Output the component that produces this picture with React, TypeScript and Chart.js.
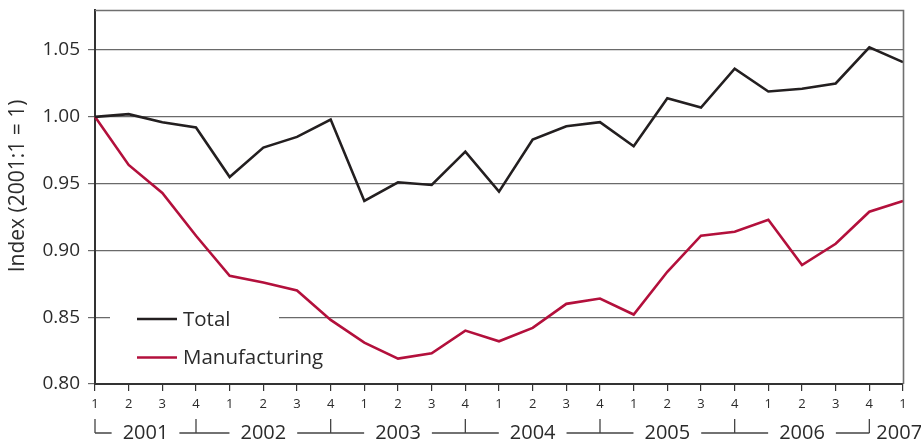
import React, { useEffect, useRef } from "react";
import { Chart, registerables } from "chart.js";

Chart.register(...registerables);

const quarterLabels = ["1", "2", "3", "4", "1", "2", "3", "4", "1", "2", "3", "4", "1", "2", "3", "4", "1", "2", "3", "4", "1", "2", "3", "4", "1"];
const yearLabels = ["2001", "2002", "2003", "2004", "2005", "2006", "2007"];
const totalValues = [1.0, 1.002, 0.996, 0.992, 0.955, 0.977, 0.985, 0.998, 0.937, 0.951, 0.949, 0.974, 0.944, 0.983, 0.993, 0.996, 0.978, 1.014, 1.007, 1.036, 1.019, 1.021, 1.025, 1.052, 1.041];
const manufacturingValues = [1.0, 0.964, 0.943, 0.911, 0.881, 0.876, 0.87, 0.848, 0.831, 0.819, 0.823, 0.84, 0.832, 0.842, 0.86, 0.864, 0.852, 0.884, 0.911, 0.914, 0.923, 0.889, 0.905, 0.929, 0.937];
const yTickValues = [0.8, 0.85, 0.9, 0.95, 1.0, 1.05];
const yMin = 0.8;
const yMax = 1.08;
const yTitle = "Index (2001:1 = 1)";
const seriesNames = ["Total", "Manufacturing"];
const seriesColors = ["#231f20", "#b3103c"];

const FONT = '"Open Sans", "Liberation Sans", Arial, sans-serif';
const TEXT = "#2b2b2b";

const framePlugin = {
  id: "frame",
  beforeDatasetsDraw(chart: any) {
    const { ctx, chartArea } = chart;
    ctx.save();
    // legend box
    const lx = chartArea.left + 15;
    const ly = chartArea.top + 294;
    ctx.fillStyle = "#ffffff";
    ctx.fillRect(lx, ly, 169, 70);
    ctx.font = `20.5px ${FONT}`;
    ctx.textBaseline = "middle";
    ctx.textAlign = "left";
    chart.data.datasets.forEach((ds: any, i: number) => {
      const y = chartArea.top + 309 + i * 38.5;
      ctx.strokeStyle = ds.borderColor;
      ctx.lineWidth = 2.6;
      ctx.beginPath();
      ctx.moveTo(chartArea.left + 42, y);
      ctx.lineTo(chartArea.left + 82, y);
      ctx.stroke();
      ctx.fillStyle = TEXT;
      ctx.fillText(ds.label, chartArea.left + 88, y + 1);
    });
    ctx.restore();
  },
  afterDraw(chart: any) {
    const { ctx, chartArea } = chart;
    const xs = chart.scales.x;
    const ys = chart.scales.y;

    // top and right frame
    const fTop = Math.round(ys.getPixelForValue(yMax)) + 0.5;
    const fRight = Math.round(xs.getPixelForValue(quarterLabels.length - 1)) + 0.5;
    const fLeft = xs.getPixelForValue(0);
    const fBottom = ys.getPixelForValue(yMin);
    ctx.save();
    ctx.strokeStyle = "#6f6f6f";
    ctx.lineWidth = 1.6;
    ctx.beginPath();
    ctx.moveTo(fLeft, fTop);
    ctx.lineTo(fRight, fTop);
    ctx.lineTo(fRight, fBottom);
    ctx.stroke();
    ctx.restore();

    ctx.save();
    // y title
    ctx.font = `21px ${FONT}`;
    ctx.fillStyle = TEXT;
    ctx.translate(18, 186);
    ctx.rotate(-Math.PI / 2);
    ctx.textAlign = "center";
    ctx.textBaseline = "middle";
    ctx.fillText(yTitle, 0, 0);
    ctx.restore();

    // year brackets
    ctx.save();
    const bounds: number[] = [0];
    quarterLabels.forEach((q, i) => {
      if (q === "4") bounds.push(i);
    });
    const yLine = chartArea.bottom + 49;
    const yTop = chartArea.bottom + 35;
    ctx.strokeStyle = "#444";
    ctx.lineWidth = 1.3;
    ctx.font = `20px ${FONT}`;
    ctx.fillStyle = TEXT;
    ctx.textBaseline = "middle";
    ctx.beginPath();
    bounds.forEach((b) => {
      const px = xs.getPixelForValue(b);
      ctx.moveTo(px, yTop);
      ctx.lineTo(px, yLine);
    });
    const gap = 11;
    yearLabels.forEach((yr, k) => {
      const x0 = xs.getPixelForValue(bounds[k]);
      if (k + 1 < bounds.length) {
        const x1 = xs.getPixelForValue(bounds[k + 1]);
        const mid = (x0 + x1) / 2;
        const w = ctx.measureText(yr).width;
        ctx.moveTo(x0, yLine);
        ctx.lineTo(mid - w / 2 - gap, yLine);
        ctx.moveTo(mid + w / 2 + gap, yLine);
        ctx.lineTo(x1, yLine);
        ctx.textAlign = "center";
        ctx.fillText(yr, mid, yLine);
      } else {
        ctx.textAlign = "left";
        ctx.fillText(yr, x0 + 7, yLine);
      }
    });
    ctx.stroke();
    ctx.restore();
  },
};

export default function App() {
  const ref = useRef<HTMLCanvasElement>(null);
  useEffect(() => {
    document.body.style.margin = "0";
    const canvas = ref.current;
    if (!canvas) return;
    const chart = new Chart(canvas, {
      type: "line",
      data: {
        labels: quarterLabels,
        datasets: [
          {
            label: seriesNames[0],
            data: totalValues,
            borderColor: seriesColors[0],
            backgroundColor: seriesColors[0],
            borderWidth: 2.6,
            pointRadius: 0,
            tension: 0,
          },
          {
            label: seriesNames[1],
            data: manufacturingValues,
            borderColor: seriesColors[1],
            backgroundColor: seriesColors[1],
            borderWidth: 2.6,
            pointRadius: 0,
            tension: 0,
          },
        ],
      },
      options: {
        responsive: false,
        animation: false,
        layout: { padding: { top: 10, right: 18, left: 0, bottom: 0 } },
        plugins: {
          legend: { display: false },
          tooltip: { enabled: false },
        },
        scales: {
          x: {
            type: "category",
            offset: false,
            afterFit: (s: any) => {
              s.height = 58;
              s.paddingLeft = 0;
              s.paddingRight = 0;
            },
            grid: {
              drawOnChartArea: false,
              drawTicks: true,
              tickLength: 7,
              color: "#333",
              lineWidth: 1.2,
            },
            border: { color: "#333", width: 2 },
            ticks: {
              autoSkip: false,
              maxRotation: 0,
              padding: 5,
              color: TEXT,
              font: { family: FONT, size: 13 },
            },
          },
          y: {
            type: "linear",
            min: yMin,
            max: yMax,
            afterFit: (s: any) => {
              s.width = 95;
              s.paddingTop = 0;
              s.paddingBottom = 0;
            },
            afterBuildTicks: (s: any) => {
              s.ticks = yTickValues.map((v) => ({ value: v }));
            },
            grid: {
              color: "#6a6a6a",
              lineWidth: 1.2,
              tickLength: 7,
            },
            border: { color: "#333", width: 2 },
            ticks: {
              padding: 8,
              color: TEXT,
              font: { family: FONT, size: 19 },
              callback: (v: any) => Number(v).toFixed(2),
            },
          },
        },
      },
      plugins: [framePlugin],
    });
    return () => chart.destroy();
  }, []);
  return (
    <div style={{ width: 921, height: 442 }}>
      <canvas ref={ref} width={921} height={442} style={{ display: "block", width: 921, height: 442 }} />
    </div>
  );
}
